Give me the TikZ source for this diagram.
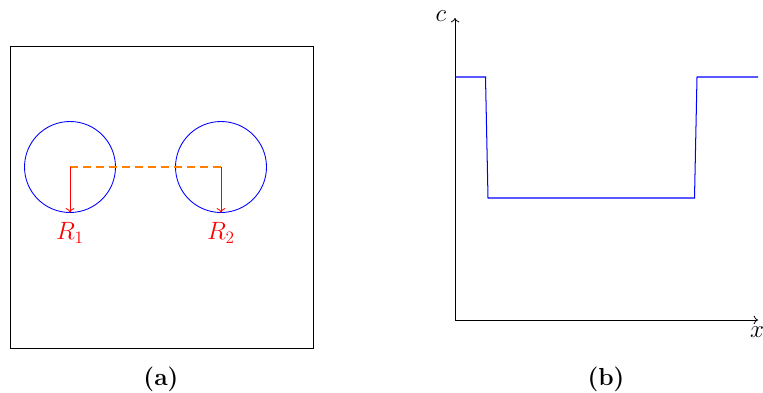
\documentclass[tikz,border=0pt]{standalone}
\usetikzlibrary{arrows.meta}
\begin{document}
\begin{tikzpicture}[x=0.69pt,y=-0.69pt,
  big/.style={font=\fontsize{17}{20}\selectfont},
  bigbold/.style={font=\fontsize{17}{20}\selectfont\bfseries},
  frame/.style={draw=black,line width=0.55pt},
  circ/.style={draw=blue,line width=0.6pt},
  radius arrow/.style={draw=red,-{To[length=3pt,width=6pt]},line width=0.6pt},
  link/.style={draw=orange,dash pattern=on 5.5pt off 3.5pt,line width=1.3pt},
  axis/.style={draw=black,-{To[length=3pt,width=6pt]},line width=0.55pt},
  curve/.style={draw=blue,line width=0.7pt},
  lab/.style={text=red,big}]
\useasboundingbox (0,0) rectangle (763,392);
% (a)
\draw[frame] (10,46) rectangle (313,348);
\coordinate (c1) at (70,167);
\coordinate (c2) at (221,167);
\draw[circ] (c1) circle[radius=45.5];
\draw[circ] (c2) circle[radius=45.5];
\coordinate (b1) at (70,212.5);
\coordinate (b2) at (221,212.5);
\draw[link] (c1) -- (c2);
\draw[radius arrow] (c1) -- (b1);
\draw[radius arrow] (c2) -- (b2);
\node[lab] (r1) at (70,233) {$R_1$};
\node[lab] (r2) at (221,233) {$R_2$};
\node[bigbold] (la) at (161,379) {(a)};
% (b)
\coordinate (o) at (455,320);
\coordinate (ytop) at (455,18);
\coordinate (xend) at (758,320);
\draw[axis] (o) -- (ytop);
\draw[axis] (o) -- (xend);
\node[big] (cl) at (441,16) {$c$};
\node[big] (xl) at (757,332) {$x$};
\draw[curve] (455,77) -- (485.5,77) -- (488,198) -- (694.5,198) -- (697,77) -- (758,77);
\node[bigbold] (lb) at (606,379) {(b)};
\end{tikzpicture}
\end{document}
